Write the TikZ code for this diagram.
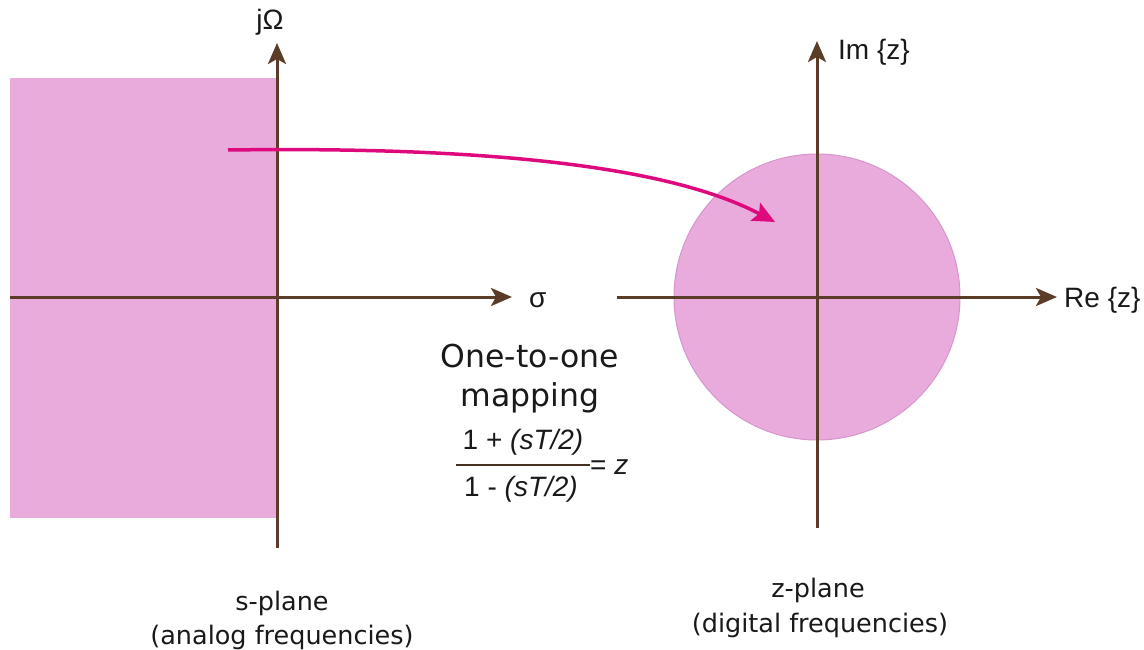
\documentclass[tikz,border=0pt]{standalone}
\usepackage{fontspec}
\setmainfont{DejaVu Sans}
\newfontfamily\arialf{Liberation Sans}
\usetikzlibrary{arrows.meta}
\definecolor{planepink}{RGB}{233,170,220}
\definecolor{planeedge}{RGB}{214,150,204}
\definecolor{axisbrown}{RGB}{90,60,40}
\definecolor{mapmag}{RGB}{222,10,125}
\definecolor{txt}{RGB}{25,25,25}
\tikzset{
  axis/.style={draw=axisbrown, line width=3pt, -{Stealth[length=21pt,width=18pt,inset=5pt]}},
  axlabel/.style={text=txt, inner sep=0pt, font=\arialf\fontsize{28}{32}\selectfont},
  midtext/.style={text=txt, inner sep=0pt, font=\fontsize{31.5}{36}\selectfont},
  captext/.style={text=txt, inner sep=0pt, font=\fontsize{25.5}{30}\selectfont},
  formtext/.style={text=txt, inner sep=0pt, font=\arialf\fontsize{28}{32}\selectfont},
  maparrow/.style={draw=mapmag, line width=3.5pt, -{Stealth[length=22pt,width=20pt,inset=4pt]}}
}
\begin{document}
\begin{tikzpicture}[x=1pt,y=-1pt]
\useasboundingbox (0,0) rectangle (1144,650);
% s-plane region
\fill[planepink] (10,78) rectangle (277,518);
% z-plane unit circle
\node[circle, minimum size=286pt, inner sep=0pt, fill=planepink, draw=planeedge, line width=1pt] (zc) at (817,297) {};
% axes coordinates
\coordinate (sxl) at (10,297);
\coordinate (sxr) at (512,297);
\coordinate (syb) at (277,548);
\coordinate (syt) at (277,43);
\coordinate (zxl) at (617,297);
\coordinate (zxr) at (1057,297);
\coordinate (zyb) at (817,528);
\coordinate (zyt) at (817,41);
\draw[axis] (sxl) -- (sxr);
\draw[axis] (syb) -- (syt);
\draw[axis] (zxl) -- (zxr);
\draw[axis] (zyb) -- (zyt);
% axis labels
\node[axlabel] (jw) at (270,22) {jΩ};
\node[axlabel, anchor=west] (sig) at (529,300) {σ};
\node[axlabel, anchor=west] (imz) at (838,52) {Im \{z\}};
\node[axlabel, anchor=west] (rez) at (1064,300) {Re \{z\}};
% mapping arrow
\coordinate (mstart) at (228,150);
\coordinate (mend) at (775,222);
\draw[maparrow] (mstart) .. controls (520,146) and (680,172) .. (mend);
% middle text
\node[midtext] (one) at (530,356) {One-to-one};
\node[midtext] (map) at (530,398) {mapping};
\node[formtext] (num) at (523,442) {1 + \textit{(sT/2)}};
\node[formtext] (den) at (521,489) {1 - \textit{(sT/2)}};
\coordinate (barl) at (456,465);
\coordinate (barr) at (590,465);
\draw[draw=axisbrown!80!black, line width=2.5pt] (barl) -- (barr);
\node[formtext, anchor=west] (eqz) at (590,467) {= \textit{z}};
% captions
\node[captext] (sp) at (282,603) {s-plane};
\node[captext] (spa) at (282,637) {(analog frequencies)};
\node[captext] (zp) at (818,590) {z-plane};
\node[captext] (zpd) at (820,625) {(digital frequencies)};
\end{tikzpicture}
\end{document}
